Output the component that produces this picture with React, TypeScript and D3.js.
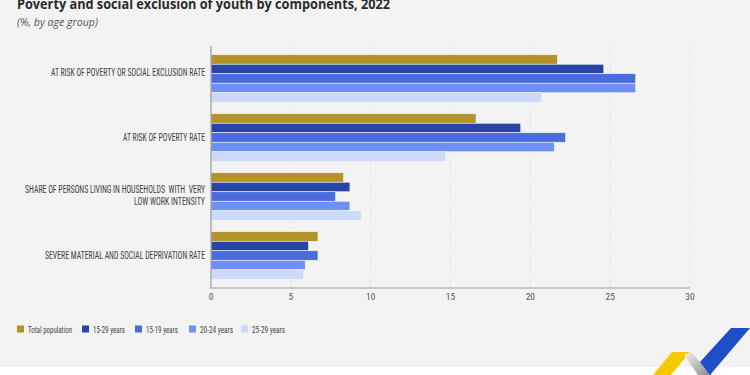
import React from "react";
import * as d3 from "d3";

const categories = [
  "AT RISK OF POVERTY OR SOCIAL EXCLUSION RATE",
  "AT RISK OF POVERTY RATE",
  "SHARE OF PERSONS LIVING IN HOUSEHOLDS\u00a0 WITH\u00a0 VERY|LOW WORK INTENSITY",
  "SEVERE MATERIAL AND SOCIAL DEPRIVATION RATE",
];
const seriesNames = ["Total population", "15-29 years", "15-19 years", "20-24 years", "25-29 years"];
const totalPopulation = [21.7, 16.6, 8.3, 6.7];
const years15to29 = [24.6, 19.4, 8.7, 6.1];
const years15to19 = [26.6, 22.2, 7.8, 6.7];
const years20to24 = [26.6, 21.5, 8.7, 5.9];
const years25to29 = [20.7, 14.7, 9.4, 5.8];
const xTicks = [0, 5, 10, 15, 20, 25, 30];
const colors = ["#b3922a", "#2744a6", "#4a6cdc", "#6d8ff6", "#cdd9fb"];

const seriesValues = [totalPopulation, years15to29, years15to19, years20to24, years25to29];
const labelWidths = [154, 82, [180, 71], 160];
const labelDy = [-6, 0, -1, 0];
const legendX = [17, 82, 135, 189, 241];
const legendTextW = [44, 32, 32, 33, 33];

export default function App() {
  const W = 750, H = 375;
  const x = d3.scaleLinear().domain([0, 30]).range([211, 690]);
  const y = d3.scaleBand<string>().domain(categories).range([46, 288]).paddingInner(0.195).paddingOuter(0.148);
  const yi = d3.scaleBand<string>().domain(seriesNames).range([0, y.bandwidth()]).padding(0);
  const narrow = "'Liberation Sans Narrow', 'Roboto Condensed', 'Open Sans', sans-serif";
  return (
    <svg width={W} height={H} style={{ position: "absolute", left: 0, top: 0 }} fontFamily="'Open Sans', sans-serif">
      <rect x={0} y={0} width={W} height={367} fill="#f3f3f3" />
      <rect x={0} y={367} width={W} height={8} fill="#ffffff" />
      <text x={17} y={9} fontSize={14.5} fontWeight="bold" fill="#2b2b2b" textLength={373} lengthAdjust="spacingAndGlyphs">
        Poverty and social exclusion of youth by components, 2022
      </text>
      <text x={17} y={26} fontSize={10.5} fontStyle="italic" fill="#555" textLength={81} lengthAdjust="spacingAndGlyphs">
        (%, by age group)
      </text>
      {xTicks.slice(1).map((t) => (
        <line key={t} x1={x(t)} x2={x(t)} y1={46} y2={288} stroke="#dcdcdc" strokeWidth={0.8} strokeDasharray="3,3" />
      ))}
      {categories.map((c, ci) => (
        <g key={c}>
          {seriesNames.map((s, si) => (
            <rect
              key={s}
              x={x(0)}
              y={(y(c) as number) + (yi(s) as number)}
              width={x(seriesValues[si][ci]) - x(0)}
              height={yi.bandwidth()}
              fill={colors[si]}
              stroke="#f3f3f3"
              strokeWidth={0.6}
            />
          ))}
        </g>
      ))}
      <line x1={x(0)} x2={x(0)} y1={46} y2={288.5} stroke="#9a9a9a" strokeWidth={1.2} />
      <line x1={x(0)} x2={x(30)} y1={288} y2={288} stroke="#9a9a9a" strokeWidth={1.2} />
      {xTicks.map((t) => (
        <text key={t} x={x(t)} y={300} fontSize={9.5} fill="#555" textAnchor="middle" fontFamily={narrow}>
          {t}
        </text>
      ))}
      {categories.map((c, ci) => {
        const lines = c.split("|");
        const cy = (y(c) as number) + y.bandwidth() / 2 + labelDy[ci];
        const lw = labelWidths[ci];
        return (
          <g key={c}>
            {lines.map((ln, li) => {
              const yy = cy + (li - (lines.length - 1) / 2) * 12 + 3.5;
              const w = Array.isArray(lw) ? lw[li] : lw;
              return (
                <text key={li} x={205} y={yy} fontSize={10} fill="#3f3f3f" textAnchor="end" fontFamily={narrow} textLength={w} lengthAdjust="spacingAndGlyphs">
                  {ln}
                </text>
              );
            })}
          </g>
        );
      })}
      {seriesNames.map((s, si) => (
        <g key={s}>
          <rect x={legendX[si]} y={325.5} width={7} height={7} fill={colors[si]} />
          <text x={legendX[si] + 11} y={332.5} fontSize={9.5} fill="#444" fontFamily={narrow} textLength={legendTextW[si]} lengthAdjust="spacingAndGlyphs">
            {s}
          </text>
        </g>
      ))}
      <defs>
        <linearGradient id="lg" x1="0" y1="0" x2="1" y2="1">
          <stop offset="0" stopColor="#f4f4f4" />
          <stop offset="1" stopColor="#8a8a8a" />
        </linearGradient>
      </defs>
      <polygon points="672,352 690,352 671,375 653,375" fill="#f6c800" />
      <polygon points="684,355 691,352 712,375 698,375" fill="url(#lg)" />
      <polygon points="731,328 750,328 710,375 700,362" fill="#1f4ec8" />
    </svg>
  );
}
